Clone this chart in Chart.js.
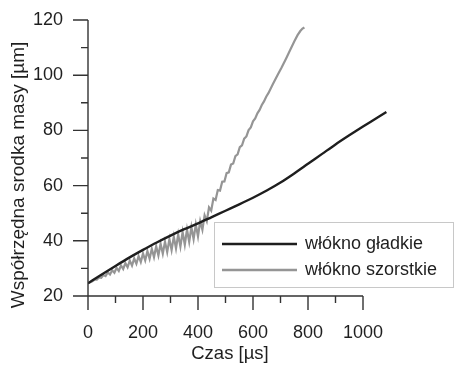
<!DOCTYPE html>
<html>
<head>
<meta charset="utf-8">
<script src="https://cdn.jsdelivr.net/npm/chart.js@4.4.0/dist/chart.umd.min.js"></script>
<style>
  html, body { margin: 0; padding: 0; background: #fff; }
  #wrap { width: 455px; height: 365px; }
</style>
</head>
<body>
<div id="wrap"><canvas id="chart"></canvas></div>
<script>
// włókno gładkie
const smoothTime = [0, 50, 100, 150, 200, 250, 300, 350, 400, 450, 500, 550, 600, 650, 700, 750, 800, 850, 900, 950, 1000, 1050, 1085];
const smoothPos = [24.6, 27.8, 30.9, 33.9, 36.7, 39.4, 41.9, 44.2, 46.3, 48.6, 50.9, 53.2, 55.6, 58.2, 61.1, 64.4, 67.9, 71.4, 74.9, 78.2, 81.4, 84.5, 86.7];

// włókno szorstkie (oscillating)
const roughTime = [0, 8, 16, 24, 32, 40, 48, 56, 64, 72, 80, 88, 96, 104, 112, 120, 128, 136, 144, 152,
  160, 168, 176, 184, 192, 200, 208, 216, 224, 232, 240, 248, 256, 264, 272, 280, 288, 296, 304, 312,
  320, 328, 336, 344, 352, 360, 368, 376, 384, 392, 400, 408, 416, 424, 432, 440, 448, 456, 464, 472,
  480, 488, 496, 504, 512, 520, 528, 536, 544, 552, 560, 568, 576, 584, 592, 600, 608, 616, 624, 632,
  640, 648, 656, 672, 688, 704, 720, 736, 750, 762, 772, 780, 787];
const roughPos = [24.6, 25.0, 25.3, 25.9, 25.9, 26.7, 26.6, 27.6, 27.2, 28.5, 27.8, 29.3, 28.4, 30.2, 29.1, 31.1, 29.8, 31.9, 30.4, 32.8,
  31.0, 33.6, 31.7, 34.5, 32.3, 35.4, 32.9, 36.3, 33.5, 37.1, 34.1, 38.0, 34.7, 38.9, 35.3, 39.7, 35.9, 40.6, 36.6, 41.5,
  37.2, 42.3, 37.9, 43.2, 38.6, 44.1, 39.6, 45.0, 40.6, 45.9, 41.6, 47.1, 44.0, 49.2, 47.1, 52.1, 50.9, 55.3, 54.8, 58.4,
  58.2, 61.4, 61.5, 64.5, 64.8, 67.6, 68.0, 70.7, 71.3, 73.9, 74.6, 77.0, 77.8, 80.1, 81.1, 83.3, 84.3, 86.2, 87.4, 89.2,
  90.5, 92.2, 93.5, 96.7, 99.8, 102.8, 106.0, 109.3, 112.2, 114.5, 116.0, 116.9, 117.3];

const xTicks = [0, 100, 200, 300, 400, 500, 600, 700, 800, 900, 1000];
const yTicks = [20, 30, 40, 50, 60, 70, 80, 90, 100, 110, 120];

const FONT = "'Liberation Sans', Arial, sans-serif";
const INK = '#1f1f1f';

function pts(xs, ys) {
    return xs.map((x, i) => ({ x: x, y: ys[i] }));
}

// axis lines, tick marks, axis titles and the boxed legend
const decor = {
    id: 'decor',
    afterDatasetsDraw(chart) {
        const ctx = chart.ctx;
        const xs = chart.scales.x, ys = chart.scales.y;
        const x0 = xs.getPixelForValue(0);
        const y0 = ys.getPixelForValue(20);
        ctx.save();
        ctx.strokeStyle = '#333';
        ctx.lineWidth = 1.4;
        ctx.beginPath();
        ctx.moveTo(x0, ys.getPixelForValue(120));
        ctx.lineTo(x0, y0);
        ctx.lineTo(xs.getPixelForValue(1000), y0);
        xTicks.forEach(v => {
            const px = xs.getPixelForValue(v);
            ctx.moveTo(px, y0);
            ctx.lineTo(px, y0 + (v % 200 === 0 ? 14 : 7));
        });
        yTicks.forEach(v => {
            const py = ys.getPixelForValue(v);
            ctx.moveTo(x0, py);
            ctx.lineTo(x0 - (v % 20 === 0 ? 15 : 7), py);
        });
        ctx.stroke();

        ctx.fillStyle = INK;
        ctx.font = '18.5px ' + FONT;
        ctx.textAlign = 'center';
        ctx.textBaseline = 'middle';
        ctx.fillText('Czas [\u00b5s]', 230, 354);
        ctx.save();
        ctx.font = '19px ' + FONT;
        ctx.translate(19, 175);
        ctx.rotate(-Math.PI / 2);
        ctx.fillText('Współrzędna srodka masy [\u00b5m]', 0, 0);
        ctx.restore();

        // legend
        ctx.font = '18px ' + FONT;
        ctx.fillStyle = '#fff';
        ctx.fillRect(214, 222, 240, 66);
        ctx.strokeStyle = '#c8c8c8';
        ctx.lineWidth = 1;
        ctx.strokeRect(214.5, 222.5, 239, 65);
        chart.data.datasets.forEach((ds, i) => {
            const ly = 244 + i * 26;
            ctx.strokeStyle = ds.borderColor;
            ctx.lineWidth = 2.4;
            ctx.beginPath();
            ctx.moveTo(222, ly);
            ctx.lineTo(297, ly);
            ctx.stroke();
            ctx.fillStyle = INK;
            ctx.textAlign = 'left';
            ctx.fillText(ds.label, 305, ly);
        });
        ctx.restore();
    }
};

new Chart(document.getElementById('chart'), {
    type: 'line',
    data: {
        datasets: [{
            label: 'włókno gładkie',
            data: pts(smoothTime, smoothPos),
            borderColor: '#1e1e1e',
            borderWidth: 2.4,
            pointRadius: 0,
            cubicInterpolationMode: 'monotone'
        }, {
            label: 'włókno szorstkie',
            data: pts(roughTime, roughPos),
            borderColor: '#959595',
            borderWidth: 2.2,
            pointRadius: 0,
            tension: 0
        }]
    },
    options: {
        responsive: true,
        maintainAspectRatio: false,
        animation: false,
        layout: { padding: { top: 20, right: 64.5, left: 0, bottom: 0 } },
        plugins: { legend: { display: false }, tooltip: { enabled: false } },
        scales: {
            x: {
                type: 'linear',
                min: 0,
                max: 1100,
                afterBuildTicks: s => { s.ticks = xTicks.map(v => ({ value: v })); },
                afterFit: s => { s.height = 69; s.paddingLeft = 0; s.paddingRight = 0; },
                grid: { display: false, drawTicks: false },
                border: { display: false },
                ticks: {
                    autoSkip: false,
                    maxRotation: 0,
                    padding: 26,
                    color: INK,
                    font: { size: 18, family: FONT },
                    callback: v => (v % 200 === 0 ? v : '')
                }
            },
            y: {
                min: 20,
                max: 120,
                afterBuildTicks: s => { s.ticks = yTicks.map(v => ({ value: v })); },
                afterFit: s => { s.width = 88; s.paddingTop = 0; s.paddingBottom = 0; },
                grid: { display: false, drawTicks: false },
                border: { display: false },
                ticks: {
                    padding: 25,
                    color: INK,
                    font: { size: 18, family: FONT },
                    callback: v => (v % 20 === 0 ? v : '')
                }
            }
        }
    },
    plugins: [decor]
});
</script>
</body>
</html>
